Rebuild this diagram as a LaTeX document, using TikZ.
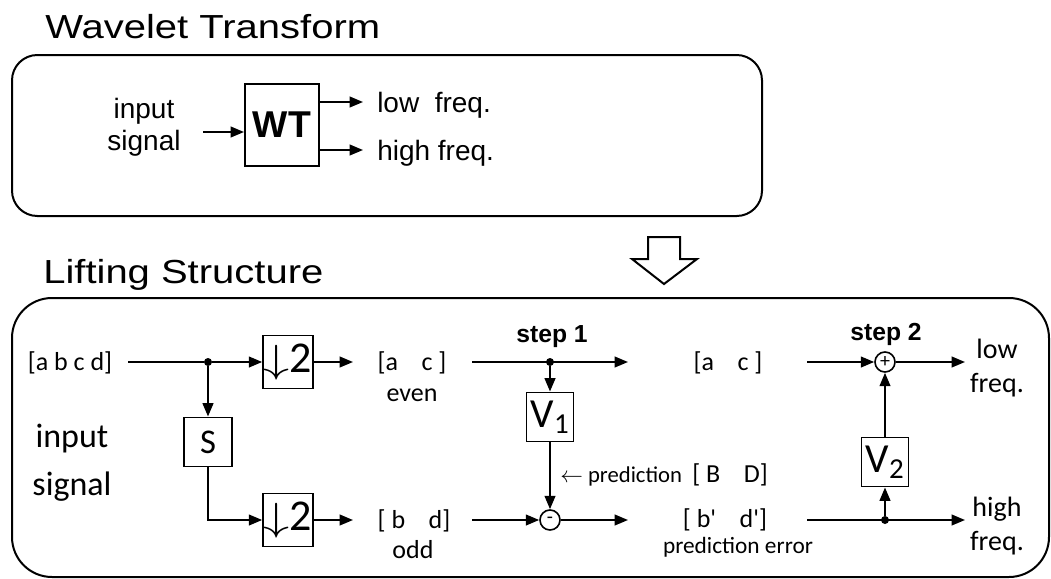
\documentclass[tikz,border=0pt]{standalone}
\usepackage{fix-cm}
\usepackage{fontspec}
\usepackage{graphicx}
\setmainfont{Carlito}
\newfontfamily\arialfont{Liberation Sans}
\usetikzlibrary{arrows.meta}

\newcommand{\dsamp}{{\fontsize{28}{28}\selectfont\scalebox{1.4}[1.05]{$\downarrow$}}\fontsize{33}{36}\selectfont 2}

\begin{document}
\begin{tikzpicture}[x=0.75pt, y=-0.75pt,
    frame/.style={line width=1.5pt, rounded corners=#1},
    lin/.style={line width=1.5pt},
    arr/.style={line width=1.5pt, -{Triangle[length=10pt, width=8pt]}},
    blk/.style={draw, line width=1.2pt, inner sep=0pt},
    dot/.style={circle, fill, inner sep=0pt, minimum size=6pt},
    sumnode/.style={circle, draw, line width=1.2pt, inner sep=0pt, minimum size=15pt, font=\fontsize{15}{15}\selectfont},
    ttl/.style={anchor=base west, inner sep=0pt, font=\arialfont\fontsize{25}{30}\selectfont},
    atxt/.style={anchor=base, inner sep=0pt, align=center, font=\arialfont\fontsize{21}{24}\selectfont},
    ctxt/.style={anchor=base, inner sep=0pt, align=center, font=\fontsize{19.5}{22}\selectfont},
    stp/.style={anchor=base, inner sep=0pt, font=\arialfont\bfseries\fontsize{18.5}{22}\selectfont}]
  \useasboundingbox (0,0) rectangle (1051,579);

  \node[ttl] (wtitle) at (45,38) {\scalebox{1.2}[1]{Wavelet Transform}};
  \draw[frame=19pt] (12,55) rectangle (762,216);
  \node[atxt] (insig) at (144,150) {input\\signal};
  \node[blk, line width=1.5pt, minimum width=55.5pt, minimum height=61.5pt,
        font=\arialfont\bfseries\fontsize{28}{30}\selectfont] (wt) at (282,125) {WT};
  \coordinate (wtin) at (203,132);
  \coordinate (lo) at (363,102);
  \coordinate (hi) at (363,150);
  \draw[arr] (wtin) -- (wtin -| wt.west);
  \draw[arr] (lo -| wt.east) -- (lo);
  \draw[arr] (hi -| wt.east) -- (hi);
  \node[atxt, anchor=base west] (lotxt) at (377,112) {low\ \ freq.};
  \node[atxt, anchor=base west] (hitxt) at (377,160) {high freq.};

  \draw[lin] (648,237) -- (680,237) -- (680,259) -- (697,259) -- (664,284)
    -- (632,259) -- (648,259) -- cycle;

  \node[ttl] (ltitle) at (43,283) {\scalebox{1.2}[1]{Lifting Structure}};
  \draw[frame=30pt] (12,298) rectangle (1049,577);

  \node[ctxt] (abcd) at (70,370) {[a b c d]};
  \node[ctxt, font=\fontsize{25.5}{36}\selectfont] (insig2) at (72,495) {input\\signal};
  \coordinate (x0) at (128,362);
  \node[dot] (j1) at (208,362) {};
  \node[blk, minimum width=37.5pt, minimum height=40pt] (even) at (288,362) {\dsamp};
  \node[blk, minimum width=37.5pt, minimum height=40pt] (odd) at (288,520) {\dsamp};
  \node[blk, minimum width=36pt, minimum height=37pt, font=\fontsize{26}{30}\selectfont] (split) at (208,442) {S};
  \draw[lin] (x0) -- (j1);
  \draw[arr] (j1) -- (even.west);
  \draw[arr] (j1) -- (split.north);
  \draw[arr] (split.south) |- (odd.west);
  \coordinate (e1) at (353,362);
  \coordinate (o1) at (353,520);
  \draw[arr] (even.east) -- (e1);
  \draw[arr] (odd.east) -- (o1);
  \node[ctxt] (ac) at (412,370) {[a\ \ \ \ c\ ]};
  \node[ctxt] (evlbl) at (412,401) {even};
  \node[ctxt] (bd) at (414,528) {[\ b\ \ \ \ d]};
  \node[ctxt] (oddlbl) at (413,558) {odd};

  \node[stp] (step1) at (552,342) {step 1};
  \coordinate (s1a) at (472,362);
  \coordinate (s1b) at (628,362);
  \coordinate (s1c) at (472,520);
  \coordinate (s1d) at (628,520);
  \node[dot] (j2) at (550,362) {};
  \node[blk, minimum width=35pt, minimum height=37pt, font=\fontsize{31}{36}\selectfont] (v1) at (550,417) {V\textsubscript{1}};
  \node[sumnode] (minus) at (550,520) {-};
  \draw[arr] (s1a) -- (s1b);
  \draw[arr] (j2) -- (v1.north);
  \draw[arr] (v1.south) -- (minus.north);
  \draw[arr] (s1c) -- (minus.west);
  \draw[arr] (minus.east) -- (s1d);
  \node[anchor=base west, inner sep=0pt, font=\fontsize{17}{20}\selectfont] (pred) at (560,482)
    {$\leftarrow$ prediction\ \ {\fontsize{19.5}{22}\selectfont[\ B\ \ \ \ D]}};

  \node[ctxt] (ac2) at (728,370) {[a\ \ \ \ c\ ]};
  \node[ctxt] (bd2) at (725,527) {[\ b\textquotesingle\ \ \ \ d\textquotesingle]};
  \node[ctxt, font=\fontsize{17.5}{20}\selectfont] (perr) at (738,553) {prediction error};

  \node[stp] (step2) at (886,340) {step 2};
  \coordinate (s2a) at (807,362);
  \coordinate (s2b) at (965,362);
  \coordinate (s2c) at (807,520);
  \coordinate (s2d) at (965,520);
  \node[sumnode] (plus) at (885,362) {+};
  \node[dot] (j3) at (885,520) {};
  \node[blk, minimum width=35pt, minimum height=37pt, font=\fontsize{31}{36}\selectfont] (v2) at (885,462) {V\textsubscript{2}};
  \draw[arr] (s2a) -- (plus.west);
  \draw[arr] (plus.east) -- (s2b);
  \draw[arr] (s2c) -- (s2d);
  \draw[arr] (j3) -- (v2.south);
  \draw[arr] (v2.north) -- (plus.south);
  \node[ctxt, font=\fontsize{21}{25.5}\selectfont] (lowout) at (997,392) {low\\freq.};
  \node[ctxt, font=\fontsize{21}{25.5}\selectfont] (highout) at (997,550) {high\\freq.};
\end{tikzpicture}
\end{document}
